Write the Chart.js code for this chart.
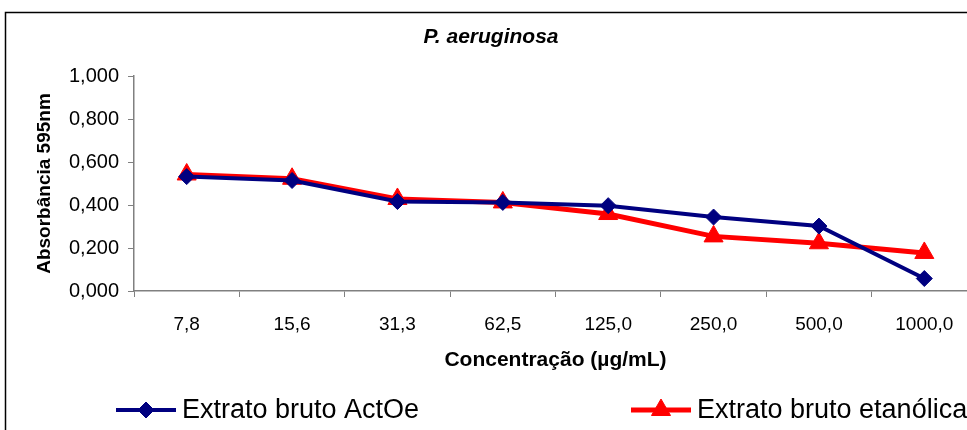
<!DOCTYPE html>
<html>
<head>
<meta charset="utf-8">
<script src="https://cdn.jsdelivr.net/npm/chart.js@4/dist/chart.umd.min.js"></script>
<style>
  html, body { margin: 0; padding: 0; background: #fff; overflow: hidden; }
  #wrap { width: 967px; height: 430px; overflow: hidden; position: relative; }
  #chart { position: absolute; left: 0; top: 0; }
</style>
</head>
<body>
<div id="wrap"><canvas id="chart" width="1000" height="430"></canvas></div>
<script>
// concentrations (µg/mL)
var concentrations = ['7,8', '15,6', '31,3', '62,5', '125,0', '250,0', '500,0', '1000,0'];
// absorbance at 595 nm
var actoe = [0.532, 0.514, 0.416, 0.412, 0.397, 0.344, 0.302, 0.058];
var etanolica = [0.542, 0.522, 0.428, 0.412, 0.358, 0.254, 0.222, 0.177];
var yTicks = [0, 0.2, 0.4, 0.6, 0.8, 1.0];
var chartTitle = 'P. aeruginosa';

var FONT = 'Arial, "Liberation Sans", sans-serif';

// frame, title and legend drawn around the plot
var framePlugin = {
    id: 'frame',
    beforeDraw: function (chart) {
        var ctx = chart.ctx;
        ctx.save();
        ctx.strokeStyle = '#000';
        ctx.lineWidth = 1.5;
        ctx.beginPath();
        ctx.moveTo(5.5, 430);
        ctx.lineTo(5.5, 12.5);
        ctx.lineTo(1000, 12.5);
        ctx.stroke();

        ctx.fillStyle = '#000';
        ctx.font = 'italic bold 21px ' + FONT;
        ctx.textAlign = 'center';
        ctx.textBaseline = 'alphabetic';
        ctx.fillText(chartTitle, 491, 43);
        ctx.restore();
    },
    afterDraw: function (chart) {
        var ctx = chart.ctx;
        var slots = [116, 631];
        ctx.save();
        chart.data.datasets.forEach(function (ds, i) {
            var x = slots[i], y = 410;
            ctx.strokeStyle = ds.borderColor;
            ctx.lineWidth = ds.borderWidth;
            ctx.beginPath();
            ctx.moveTo(x, y);
            ctx.lineTo(x + 60, y);
            ctx.stroke();
            ctx.fillStyle = ds.pointBackgroundColor;
            ctx.strokeStyle = ds.pointBorderColor;
            ctx.lineWidth = ds.pointBorderWidth;
            Chart.helpers.drawPoint(ctx, {
                pointStyle: ds.pointStyle,
                radius: ds.pointRadius,
                borderWidth: ds.pointBorderWidth
            }, x + 30, y);
            ctx.fillStyle = '#000';
            ctx.font = '27px ' + FONT;
            ctx.textBaseline = 'middle';
            ctx.textAlign = 'left';
            ctx.fillText(ds.label, x + 66, y + 1);
        });
        ctx.restore();
    }
};

var chart = new Chart(document.getElementById('chart'), {
    type: 'line',
    data: {
        labels: concentrations,
        datasets: [{
            label: 'Extrato bruto ActOe',
            data: actoe,
            borderColor: '#000080',
            backgroundColor: '#000080',
            borderWidth: 4,
            pointStyle: 'rectRot',
            pointRadius: 8,
            pointBackgroundColor: '#000080',
            pointBorderColor: '#000080',
            pointBorderWidth: 1,
            tension: 0
        }, {
            label: 'Extrato bruto etanólica',
            data: etanolica,
            borderColor: '#ff0000',
            backgroundColor: '#ff0000',
            borderWidth: 5,
            pointStyle: 'triangle',
            pointRadius: 11,
            pointBackgroundColor: '#ff0000',
            pointBorderColor: '#ff0000',
            pointBorderWidth: 1,
            tension: 0
        }]
    },
    options: {
        responsive: false,
        animation: false,
        layout: { padding: { left: 30, right: 23, top: 76, bottom: 0 } },
        plugins: {
            legend: { display: false },
            tooltip: { enabled: false },
            title: { display: false }
        },
        scales: {
            x: {
                offset: true,
                grid: { offset: true, drawOnChartArea: false, tickLength: 6, color: '#808080', tickColor: '#808080' },
                border: { color: '#808080', width: 1.5 },
                ticks: { color: '#000', font: { family: FONT, size: 19 }, padding: 16, maxRotation: 0, autoSkip: false },
                title: {
                    display: true,
                    text: 'Concentração (µg/mL)',
                    color: '#000',
                    font: { family: FONT, size: 21, weight: 'bold' },
                    padding: { top: 0, bottom: 57 }
                },
                afterFit: function (scale) { scale.height = 139; }
            },
            y: {
                min: 0,
                max: 1,
                afterBuildTicks: function (scale) {
                    scale.ticks = yTicks.map(function (v) { return { value: v }; });
                },
                grid: { drawOnChartArea: false, tickLength: 6, color: '#808080', tickColor: '#808080' },
                border: { color: '#808080', width: 1.5 },
                ticks: {
                    color: '#000',
                    font: { family: FONT, size: 20 },
                    padding: 9,
                    callback: function (v) { return v.toFixed(3).replace('.', ','); }
                },
                title: {
                    display: true,
                    text: 'Absorbância 595nm',
                    color: '#000',
                    font: { family: FONT, size: 19, weight: 'bold' },
                    padding: { top: 3, bottom: 0 }
                },
                afterFit: function (scale) { scale.width = 104; }
            }
        }
    },
    plugins: [framePlugin]
});
</script>
</body>
</html>
